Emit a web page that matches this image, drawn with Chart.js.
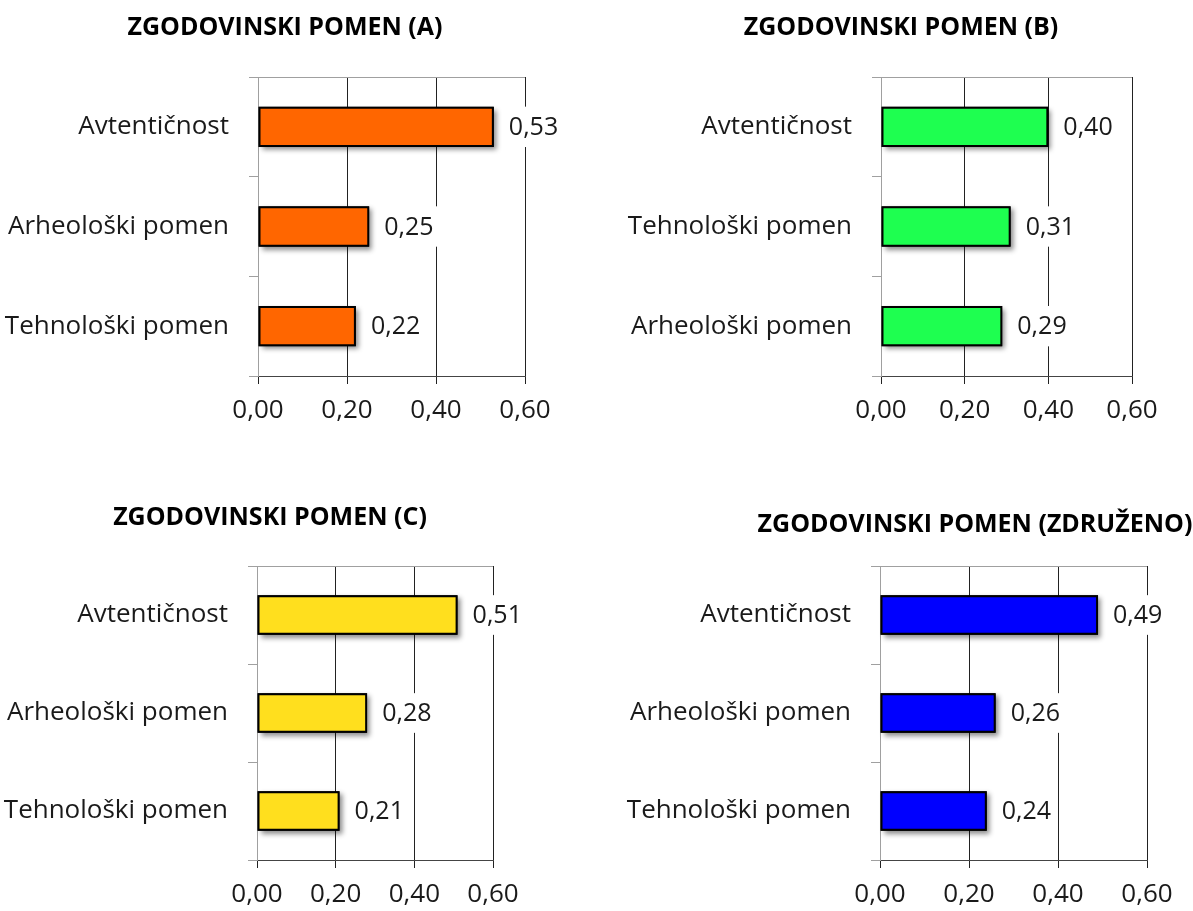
<!DOCTYPE html>
<html>
<head>
<meta charset="utf-8">
<script src="https://cdn.jsdelivr.net/npm/chart.js@4/dist/chart.umd.min.js"></script>
<style>
  body { margin: 0; background: #fff; width: 1193px; height: 911px; position: relative; overflow: hidden; }
  .panel { position: absolute; }
  .panel canvas { display: block; }
</style>
</head>
<body>
<div class="panel" style="left:0px;top:0px"><canvas id="chartA" width="570" height="440"></canvas></div>
<div class="panel" style="left:620px;top:0px"><canvas id="chartB" width="562" height="440"></canvas></div>
<div class="panel" style="left:0px;top:460px"><canvas id="chartC" width="540" height="451"></canvas></div>
<div class="panel" style="left:600px;top:460px"><canvas id="chartD" width="593" height="451"></canvas></div>
<script>
// Podatki
const labelsA = ['Avtentičnost', 'Arheološki pomen', 'Tehnološki pomen'];
const valuesA = [0.53, 0.25, 0.22];

const labelsB = ['Avtentičnost', 'Tehnološki pomen', 'Arheološki pomen'];
const valuesB = [0.40, 0.31, 0.29];

const labelsC = ['Avtentičnost', 'Arheološki pomen', 'Tehnološki pomen'];
const valuesC = [0.51, 0.28, 0.21];

const labelsD = ['Avtentičnost', 'Arheološki pomen', 'Tehnološki pomen'];
const valuesD = [0.49, 0.26, 0.24];

const xTicks = [0, 0.2, 0.4, 0.6];

const FONT = '"Open Sans", "DejaVu Sans", sans-serif';

// decimalna vejica
function fmt(v) {
  return v.toFixed(2).replace('.', ',');
}

// senca pod stolpci, oznake vrednosti in naslov
const barExtras = {
  id: 'barExtras',
  beforeDatasetsDraw(chart) {
    const ctx = chart.ctx;
    const meta = chart.getDatasetMeta(0);
    ctx.save();
    ctx.shadowColor = 'rgba(0,0,0,0.45)';
    ctx.shadowBlur = 5;
    ctx.shadowOffsetX = 3;
    ctx.shadowOffsetY = 3;
    ctx.fillStyle = '#000';
    meta.data.forEach(function(bar) {
      const p = bar.getProps(['x', 'y', 'base', 'height'], true);
      ctx.fillRect(Math.min(p.base, p.x), p.y - p.height / 2, Math.abs(p.x - p.base), p.height);
    });
    ctx.restore();
  },
  afterDatasetsDraw(chart) {
    const ctx = chart.ctx;
    const meta = chart.getDatasetMeta(0);
    const values = chart.data.datasets[0].data;
    ctx.save();
    ctx.font = '25px ' + FONT;
    ctx.textBaseline = 'middle';
    ctx.textAlign = 'left';
    meta.data.forEach(function(bar, i) {
      const text = fmt(values[i]);
      const w = ctx.measureText(text).width;
      const x = bar.x + 15;
      ctx.fillStyle = '#fff';
      ctx.fillRect(x - 4, bar.y - bar.height / 2, w + 8, bar.height);
      ctx.fillStyle = '#1a1a1a';
      ctx.fillText(text, x, bar.y + 1);
    });
    ctx.restore();
  },
  afterDraw(chart, args, opts) {
    const ctx = chart.ctx;
    ctx.save();
    ctx.font = 'bold 25px ' + FONT;
    ctx.fillStyle = '#000';
    ctx.textAlign = 'center';
    ctx.textBaseline = 'middle';
    ctx.fillText(opts.text, opts.x, opts.y);
    ctx.restore();
  }
};

function makeChart(id, labels, values, color, title, box) {
  const ctx = document.getElementById(id).getContext('2d');
  return new Chart(ctx, {
    type: 'bar',
    data: {
      labels: labels,
      datasets: [{
        data: values,
        backgroundColor: color,
        borderColor: '#000',
        borderWidth: 2,
        borderSkipped: false,
        categoryPercentage: 1,
        barPercentage: 0.405
      }]
    },
    options: {
      indexAxis: 'y',
      responsive: false,
      animation: false,
      layout: {
        padding: { left: 0, right: box.padRight, top: box.padTop, bottom: 0 }
      },
      plugins: {
        legend: { display: false },
        tooltip: { enabled: false },
        barExtras: { text: title, x: box.titleX, y: box.titleY }
      },
      scales: {
        x: {
          min: 0,
          max: 0.6,
          afterBuildTicks: function(scale) {
            scale.ticks = xTicks.map(v => ({ value: v }));
          },
          afterFit: function(scale) { scale.height = box.xAxisH; },
          ticks: {
            callback: v => fmt(v),
            font: { family: FONT, size: 26 },
            color: '#1a1a1a',
            padding: 11,
            maxRotation: 0
          },
          grid: {
            color: c => (c.tick && c.tick.value === 0) ? '#9a9a9a' : '#222',
            tickColor: '#222',
            tickLength: 8,
            lineWidth: 1
          },
          border: { display: true, color: '#444', width: 1 }
        },
        y: {
          afterFit: function(scale) { scale.width = box.yAxisW; },
          ticks: {
            font: { family: FONT, size: 26 },
            color: '#1a1a1a',
            padding: 20
          },
          grid: {
            offset: true,
            color: c => c.index === 0 ? '#a0a0a0' : 'rgba(0,0,0,0)',
            tickColor: '#a0a0a0',
            tickLength: 9,
            lineWidth: 1
          },
          border: { display: true, color: '#a0a0a0', width: 1 }
        }
      }
    },
    plugins: [barExtras]
  });
}

makeChart('chartA', labelsA, valuesA, '#FF6600', 'ZGODOVINSKI POMEN (A)',
  { yAxisW: 258, xAxisH: 64, padRight: 45, padTop: 77, titleX: 285, titleY: 28 });
makeChart('chartB', labelsB, valuesB, '#1EFF50', 'ZGODOVINSKI POMEN (B)',
  { yAxisW: 261, xAxisH: 64, padRight: 50, padTop: 77, titleX: 281, titleY: 28 });
makeChart('chartC', labelsC, valuesC, '#FFDF1E', 'ZGODOVINSKI POMEN (C)',
  { yAxisW: 257, xAxisH: 51, padRight: 47, padTop: 106, titleX: 270, titleY: 58 });
makeChart('chartD', labelsD, valuesD, '#0000FF', 'ZGODOVINSKI POMEN (ZDRUŽENO)',
  { yAxisW: 280, xAxisH: 51, padRight: 46, padTop: 106, titleX: 375, titleY: 65 });
</script>
</body>
</html>
